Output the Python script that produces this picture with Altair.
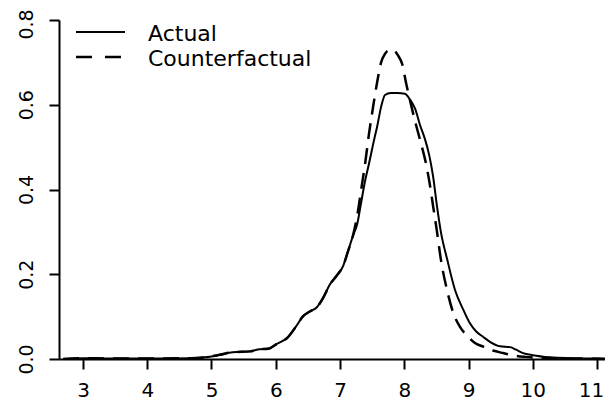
import altair as alt
import pandas as pd

# ---- data ----
actual_x = [2.69, 3.0, 3.42, 4.04, 4.67, 4.90, 5.13, 5.33, 5.60, 5.75, 5.88, 6.02,
            6.18, 6.33, 6.42, 6.53, 6.64, 6.74, 6.84, 6.95, 7.05, 7.12, 7.20, 7.27,
            7.33, 7.39, 7.45, 7.52, 7.58, 7.64, 7.70, 7.79, 7.89, 8.01, 8.09, 8.17,
            8.25, 8.32, 8.39, 8.45, 8.51, 8.57, 8.67, 8.79, 8.92, 9.02, 9.12, 9.23,
            9.34, 9.49, 9.65, 9.74, 9.85, 10.0, 10.27, 10.58, 11.0, 11.3]
actual_y = [0.0, 0.002, 0.001, 0.001, 0.002, 0.004, 0.010, 0.016, 0.018, 0.023, 0.024, 0.036,
            0.050, 0.080, 0.100, 0.112, 0.122, 0.145, 0.175, 0.197, 0.220, 0.252, 0.290, 0.320,
            0.370, 0.420, 0.460, 0.510, 0.550, 0.595, 0.623, 0.628, 0.628, 0.626, 0.612, 0.590,
            0.550, 0.520, 0.480, 0.430, 0.360, 0.300, 0.234, 0.163, 0.116, 0.085, 0.065, 0.052,
            0.040, 0.030, 0.028, 0.022, 0.014, 0.009, 0.004, 0.002, 0.001, 0.0]

cf_x = [2.69, 3.0, 3.42, 4.04, 4.67, 4.90, 5.13, 5.33, 5.60, 5.75, 5.88, 6.02,
        6.18, 6.33, 6.42, 6.53, 6.64, 6.74, 6.84, 6.95, 7.05, 7.12, 7.20, 7.27,
        7.33, 7.39, 7.45, 7.51, 7.58, 7.64, 7.70, 7.78, 7.84, 7.90, 7.97, 8.03,
        8.09, 8.17, 8.25, 8.34, 8.40, 8.45, 8.51, 8.57, 8.67, 8.76, 8.87, 8.98,
        9.10, 9.23, 9.38, 9.54, 9.68, 9.88, 10.19, 10.74, 11.25]
cf_y = [0.0, 0.002, 0.001, 0.001, 0.002, 0.004, 0.010, 0.016, 0.018, 0.023, 0.024, 0.036,
        0.050, 0.080, 0.100, 0.112, 0.122, 0.145, 0.175, 0.197, 0.220, 0.252, 0.290, 0.340,
        0.400, 0.460, 0.530, 0.590, 0.655, 0.700, 0.720, 0.730, 0.728, 0.717, 0.695, 0.650,
        0.610, 0.560, 0.515, 0.460, 0.410, 0.360, 0.300, 0.235, 0.160, 0.110, 0.075, 0.055,
        0.038, 0.029, 0.020, 0.014, 0.009, 0.005, 0.002, 0.001, 0.0]

x_ticks = [3, 4, 5, 6, 7, 8, 9, 10, 11]
y_ticks = [0.0, 0.2, 0.4, 0.6, 0.8]
x_domain = [2.6265, 11.1245]
y_domain = [0.0, 0.8]
legend_labels = ["Actual", "Counterfactual"]

FONT = "DejaVu Sans"

actual_df = pd.DataFrame({"x": actual_x, "y": actual_y})
cf_df = pd.DataFrame({"x": cf_x, "y": cf_y})

xscale = alt.Scale(domain=x_domain, nice=False, zero=False)
yscale = alt.Scale(domain=y_domain, nice=False)

common_axis = dict(title=None, grid=False, tickSize=10, tickWidth=2, tickColor="black",
                   domainColor="black", domainWidth=2, labelFont=FONT,
                   labelColor="black", labelFlush=False, labelOverlap=False)

xaxis = alt.Axis(values=x_ticks, format="d", labelPadding=11, labelFontSize=20,
                 labelOffset=alt.condition("datum.value >= 11", alt.value(-6), alt.value(0)),
                 **common_axis)
yaxis = alt.Axis(values=y_ticks, format=".1f", labelAngle=270, labelAlign="center",
                 labelBaseline="alphabetic", labelPadding=17, labelFontSize=19,
                 labelOffset=alt.condition("datum.value >= 0.8", alt.value(4), alt.value(0)),
                 **common_axis)

solid = alt.Chart(actual_df).mark_line(
    color="black", strokeWidth=2, interpolate="monotone", clip=True
).encode(
    x=alt.X("x:Q", scale=xscale, axis=xaxis),
    y=alt.Y("y:Q", scale=yscale, axis=yaxis),
)

dashed = alt.Chart(cf_df).mark_line(
    color="black", strokeWidth=2.5, strokeDash=[16, 9], interpolate="monotone", clip=True
).encode(
    x=alt.X("x:Q", scale=xscale),
    y=alt.Y("y:Q", scale=yscale),
)

leg_df = pd.DataFrame({"label": legend_labels})

leg_solid = alt.Chart(leg_df.iloc[[0]]).mark_rule(color="black", strokeWidth=2).encode(
    x=alt.value(17), x2=alt.value(66), y=alt.value(12)
)
leg_dashed = alt.Chart(leg_df.iloc[[1]]).mark_rule(
    color="black", strokeWidth=2.5, strokeDash=[16, 13]
).encode(x=alt.value(17), x2=alt.value(66), y=alt.value(37))

leg_text1 = alt.Chart(leg_df.iloc[[0]]).mark_text(
    font=FONT, fontSize=22, align="left", baseline="alphabetic", color="black"
).encode(text="label:N", x=alt.value(89), y=alt.value(21))
leg_text2 = alt.Chart(leg_df.iloc[[1]]).mark_text(
    font=FONT, fontSize=22, align="left", baseline="alphabetic", color="black"
).encode(text="label:N", x=alt.value(89), y=alt.value(46))

chart = alt.layer(solid, dashed, leg_solid, leg_dashed, leg_text1, leg_text2).properties(
    width=546, height=339,
    autosize=alt.AutoSizeParams(type="none"),
    padding={"left": 51, "top": 12, "right": 0, "bottom": 42},
    background="white",
).configure_view(stroke=None)

chart.save("out.html", embed_options={"renderer": "svg", "actions": False})
